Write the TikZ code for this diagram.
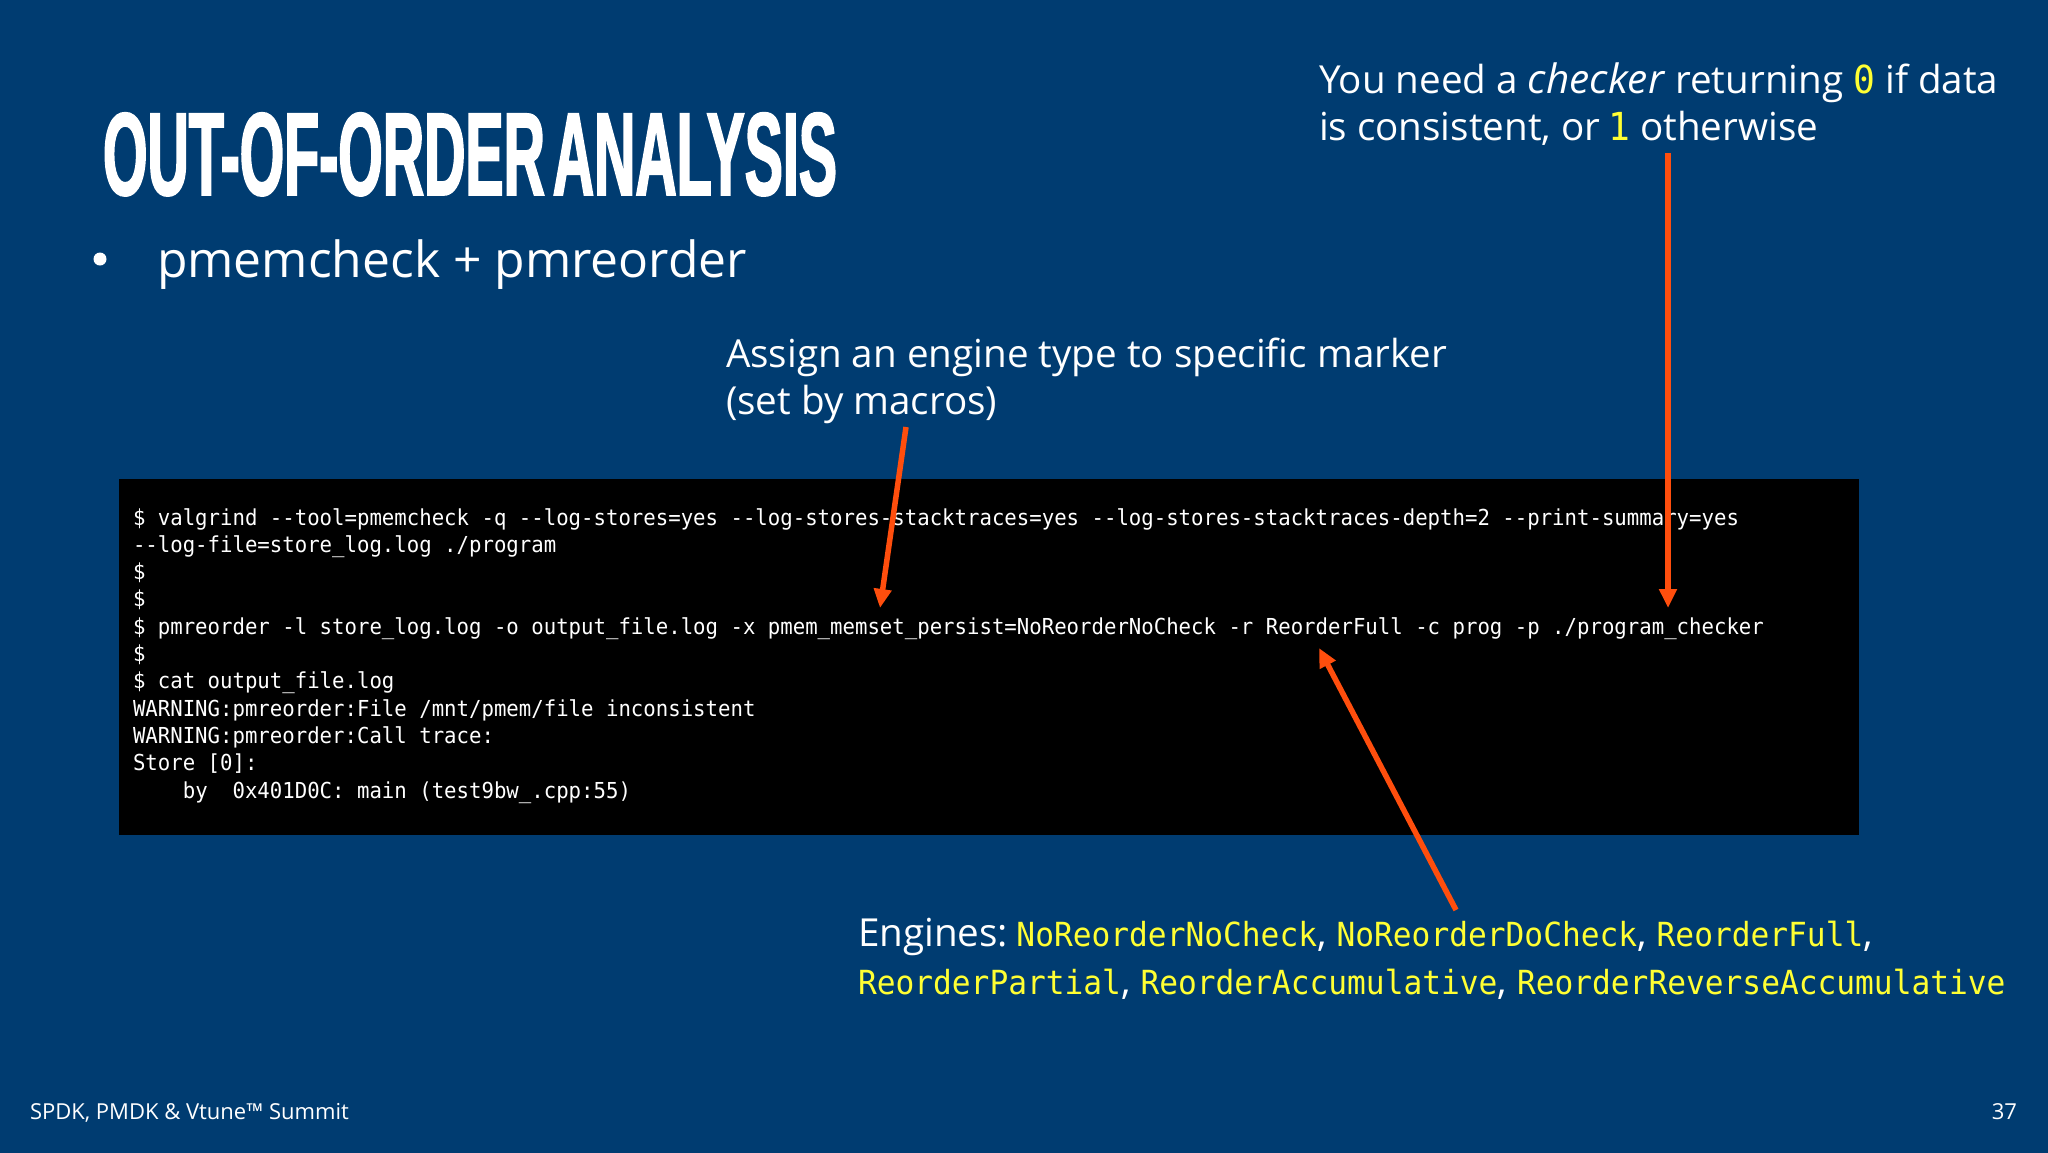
\documentclass[tikz,border=0pt]{standalone}
\usepackage{fontspec}
\usetikzlibrary{arrows.meta}
\setmainfont{Open Sans}
\newfontfamily\monof[FakeStretch=0.94]{DejaVu Sans Mono}
\newfontfamily\titlef[FakeStretch=0.485,FakeBold=1.4]{Liberation Sans Bold}
\definecolor{slidebg}{HTML}{003C71}
\definecolor{hl}{HTML}{FFFF33}
\definecolor{arrowc}{HTML}{FF4E0D}
\newcommand{\fs}[1]{\fontsize{#1}{#1}\selectfont}
\newcommand{\yl}[1]{\textcolor{hl}{#1}}
\tikzset{
  txt/.style={anchor=base west,inner sep=0pt,outer sep=0pt,text=white},
  termline/.style={txt,font=\monof\fs{22}},
  callout/.style={txt,font=\fs{38.6}},
  foot/.style={txt,font=\fs{22}},
  pointer/.style={draw=arrowc,line width=5.5pt,-{Triangle[length=19pt,width=17pt]},shorten >=0pt}
}
\begin{document}
\begin{tikzpicture}[x=1pt,y=-1pt]
\useasboundingbox (0,0) rectangle (2048,1152);
\fill[slidebg] (-3,-3) rectangle (2051,1155);
\node[txt,font=\titlef\fs{118}] (title) at (103,195) {OUT-OF-ORDER\hspace{-8pt} ANALYSIS};
\fill[white] (100,259) circle (6.5);
\node[txt,font=\fs{49.8}] (bullet) at (157,277) {pmemcheck + pmreorder};
\node[callout] (chk1) at (1319,93) {You need a {\fs{40.5}\textit{checker}} returning \yl{\monof 0} if data};
\node[callout] (chk2) at (1319,140) {is consistent, or\hspace{-2pt} \yl{\monof 1} otherwise};
\node[callout] (asg1) at (726,367) {Assign an engine type to specific marker};
\node[callout] (asg2) at (726,414) {(set by macros)};
\fill[black] (119,479) rectangle (1859,835);
\node[termline] (t1) at (133,525) {\$ valgrind --tool=pmemcheck -q --log-stores=yes --log-stores-stacktraces=yes --log-stores-stacktraces-depth=2 --print-summary=yes};
\node[termline] (t2) at (133,552.3) {--log-file=store\_log.log ./program};
\node[termline] (t3) at (133,579.6) {\$};
\node[termline] (t4) at (133,606.9) {\$};
\node[termline] (t5) at (133,634.2) {\$ pmreorder -l store\_log.log -o output\_file.log -x pmem\_memset\_persist=NoReorderNoCheck -r ReorderFull -c prog -p ./program\_checker};
\node[termline] (t6) at (133,661.5) {\$};
\node[termline] (t7) at (133,688.8) {\$ cat output\_file.log};
\node[termline] (t8) at (133,716.1) {WARNING:pmreorder:File /mnt/pmem/file inconsistent};
\node[termline] (t9) at (133,743.4) {WARNING:pmreorder:Call trace:};
\node[termline] (t10) at (133,770.7) {Store [0]:};
\node[termline] (t11) at (133,798) {\ \ \ \ by\ \ 0x401D0C: main (test9bw\_.cpp:55)};
\node[callout] (eng1) at (858,946) {Engines:\hspace{-5pt} \yl{\monof\fs{33.2}NoReorderNoCheck}, \yl{\monof\fs{33.2}NoReorderDoCheck}, \yl{\monof\fs{33.2}ReorderFull},};
\node[callout] (eng2) at (858,994) {\yl{\monof\fs{33.2}ReorderPartial}, \yl{\monof\fs{33.2}ReorderAccumulative}, \yl{\monof\fs{33.2}ReorderReverseAccumulative}};
\node[foot] (summit) at (30,1119) {SPDK, PMDK \& Vtune™ Summit};
\node[foot,anchor=base east] (pageno) at (2017,1119) {37};
\coordinate (a1s) at (906,427);
\coordinate (a1e) at (880,608);
\coordinate (a2s) at (1668,153);
\coordinate (a2e) at (1668,608);
\coordinate (a3s) at (1456,910);
\coordinate (a3e) at (1319,648);
\draw[pointer] (a1s) -- (a1e);
\draw[pointer] (a2s) -- (a2e);
\draw[pointer] (a3s) -- (a3e);
\end{tikzpicture}
\end{document}
